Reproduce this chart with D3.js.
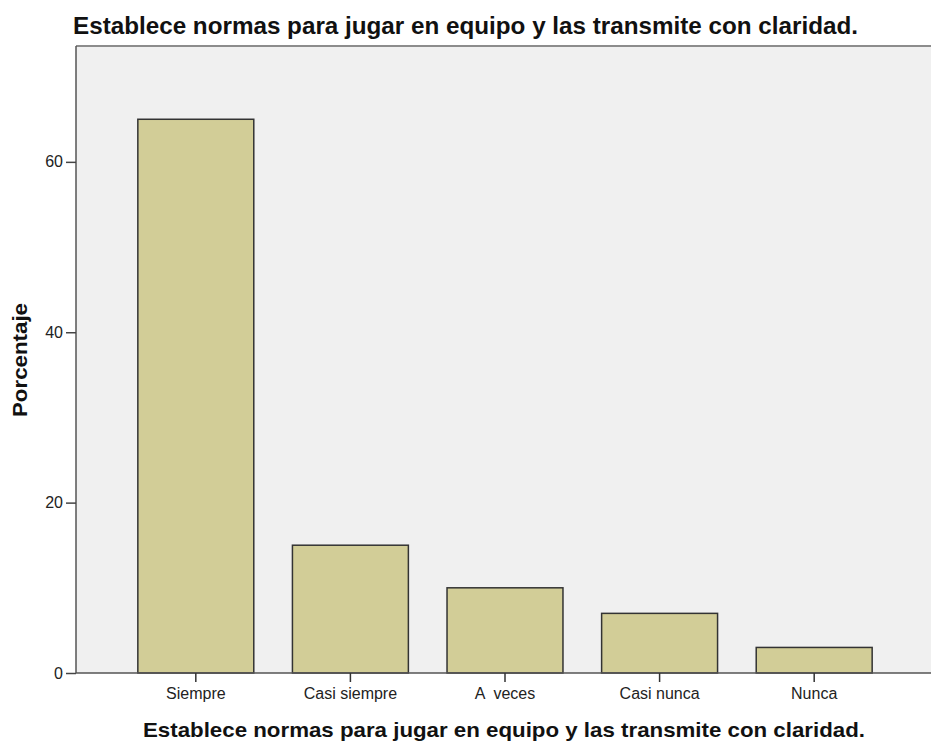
<!DOCTYPE html>
<html>
<head>
<meta charset="utf-8">
<script src="https://cdn.jsdelivr.net/npm/d3@7"></script>
<style>
  body { margin: 0; background: #fff; }
  text { font-family: "Liberation Sans", Arial, sans-serif; }
</style>
</head>
<body>
<div id="chart"></div>
<script>
const categories = ["Siempre", "Casi siempre", "A  veces", "Casi nunca", "Nunca"];
const values = [65, 15, 10, 7, 3];
const yTicks = [0, 20, 40, 60];
const titleText = "Establece normas para jugar en equipo y las transmite con claridad.";
const xTitle = "Establece normas para jugar en equipo y las transmite con claridad.";
const yTitle = "Porcentaje";

const width = 931, height = 742;
const plotLeft = 76, plotTop = 46, plotRight = 934, plotBottom = 673;

const svg = d3.select("#chart").append("svg")
    .attr("width", width)
    .attr("height", height);

// plot area background
svg.append("rect")
    .attr("x", plotLeft).attr("y", plotTop)
    .attr("width", width - plotLeft).attr("height", plotBottom - plotTop)
    .attr("fill", "#f0f0f0");

svg.append("line")
    .attr("x1", plotLeft).attr("y1", plotTop)
    .attr("x2", width).attr("y2", plotTop)
    .attr("stroke", "#8c8c8c")
    .attr("stroke-width", 2);

const x = d3.scaleBand()
    .domain(categories)
    .range([plotLeft, plotRight])
    .paddingInner(0.25)
    .paddingOuter(0.4);

const y = d3.scaleLinear()
    .domain([0, 73.6])
    .range([plotBottom, plotTop]);

// bars
svg.selectAll("rect.bar")
    .data(values)
    .join("rect")
    .attr("class", "bar")
    .attr("x", (d, i) => x(categories[i]))
    .attr("y", d => y(d))
    .attr("width", x.bandwidth())
    .attr("height", d => plotBottom - y(d))
    .attr("fill", "#d2cd97")
    .attr("stroke", "#333")
    .attr("stroke-width", 1.5);

// y axis
const yAxis = svg.append("g")
    .attr("transform", `translate(${plotLeft},0)`)
    .call(d3.axisLeft(y).tickValues(yTicks).tickSize(10).tickPadding(3).tickSizeOuter(0));
yAxis.select(".domain").attr("stroke", "#555").attr("stroke-width", 1.5)
    .attr("d", `M0,${plotTop}V${plotBottom}`);
yAxis.selectAll(".tick line").attr("stroke", "#444").attr("stroke-width", 1.5);
yAxis.selectAll(".tick text")
    .attr("font-size", "16px")
    .attr("fill", "#222")
    .attr("font-family", "Liberation Sans, Arial, sans-serif");

// x axis
const xAxis = svg.append("g")
    .attr("transform", `translate(0,${plotBottom})`)
    .call(d3.axisBottom(x).tickSize(9).tickPadding(6).tickSizeOuter(0));
xAxis.select(".domain").attr("stroke", "#555").attr("stroke-width", 1.5)
    .attr("d", `M${plotLeft},0H${width}`);
xAxis.selectAll(".tick line").attr("stroke", "#333").attr("stroke-width", 1.5);
xAxis.selectAll(".tick text")
    .attr("font-size", "16px")
    .attr("fill", "#222")
    .attr("font-family", "Liberation Sans, Arial, sans-serif")
    .style("white-space", "pre");

// titles
svg.append("text")
    .attr("x", 73).attr("y", 34)
    .attr("font-size", "24px")
    .attr("font-weight", "bold")
    .attr("fill", "#111")
    .attr("textLength", 785)
    .attr("lengthAdjust", "spacingAndGlyphs")
    .text(titleText);

svg.append("text")
    .attr("x", 143).attr("y", 737)
    .attr("font-size", "21px")
    .attr("font-weight", "bold")
    .attr("fill", "#111")
    .attr("textLength", 722)
    .attr("lengthAdjust", "spacingAndGlyphs")
    .text(xTitle);

svg.append("text")
    .attr("transform", "translate(27,417) rotate(-90)")
    .attr("font-size", "20px")
    .attr("font-weight", "bold")
    .attr("fill", "#111")
    .attr("textLength", 114)
    .attr("lengthAdjust", "spacingAndGlyphs")
    .text(yTitle);
</script>
</body>
</html>
